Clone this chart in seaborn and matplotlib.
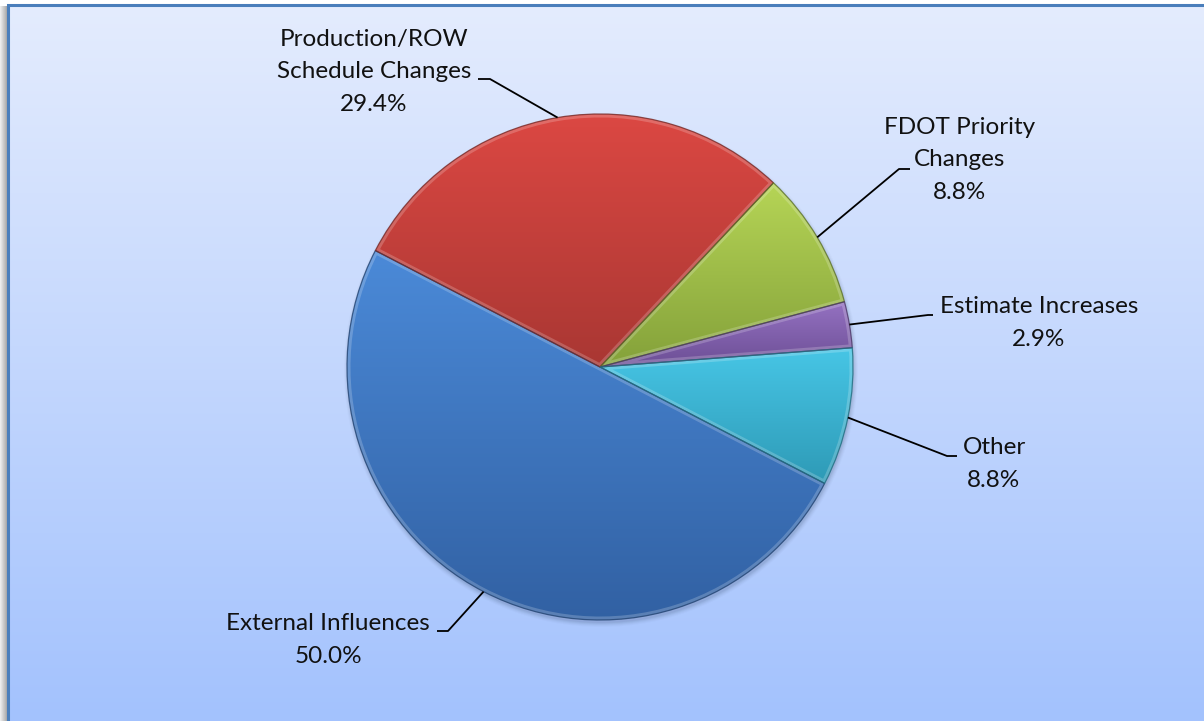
import numpy as np
import matplotlib
matplotlib.use("Agg")
import matplotlib.pyplot as plt
from matplotlib.colors import LinearSegmentedColormap, to_rgb
from matplotlib.patches import Circle, PathPatch
import seaborn as sns

# Reasons for schedule changes (project counts)
categories = ["External Influences", "Production/ROW\nSchedule Changes",
              "FDOT Priority\nChanges", "Estimate Increases", "Other"]
counts = [17, 10, 3, 1, 3]
pct_labels = ["50.0%", "29.4%", "8.8%", "2.9%", "8.8%"]

# light (top) / dark (bottom) shade of each slice
slice_top = ["#4b8ad8", "#dc4843", "#b6d556", "#9572c2", "#47c6e6"]
slice_bottom = ["#3160a2", "#a93733", "#84a13a", "#6c4e95", "#2e9ab6"]

sns.set_theme(style="white")
plt.rcParams["font.family"] = ["Lato", "DejaVu Sans"]

W, H = 1204, 721
fig = plt.figure(figsize=(W / 100, H / 100), dpi=100)
ax = fig.add_axes([0, 0, 1, 1])


def py(y):
    return H - y


cx, cy, r = 600, py(367), 253

wedges, _ = ax.pie(counts, startangle=-27.4, counterclock=False,
                   center=(cx, cy), radius=r, frame=True,
                   wedgeprops=dict(lw=0))
ax.set_xlim(0, W)
ax.set_ylim(0, H)
ax.set_aspect("equal")
ax.axis("off")

# chart area: soft shadow on the left, vertical blue gradient, blue frame
shade = np.linspace(0, 1, 64)[None, :]
ax.imshow(shade, extent=(0, 7, 0, py(6)), aspect="auto", zorder=0,
          cmap=LinearSegmentedColormap.from_list("sh", ["#f2f2f2", "#a8a8a8"]))
bg = np.linspace(0, 1, 256)[:, None]
ax.imshow(bg, extent=(8, W, 0, py(5)), aspect="auto", zorder=0.5,
          cmap=LinearSegmentedColormap.from_list("bg", ["#e4ecfd", "#a3c2fe"]))
ax.plot([7.5, 7.5, W], [0, py(4.5), py(4.5)], color="#4a7ebb", lw=2.2,
        solid_joinstyle="miter", zorder=1)
ax.set_xlim(0, W)
ax.set_ylim(0, H)

# soft drop shadow under the pie
for k, a in zip(range(5), [0.06, 0.05, 0.04, 0.03, 0.02]):
    ax.add_patch(Circle((cx + 1, cy - 3), r + k, color="#1b2a45",
                        alpha=a, lw=0, zorder=1.5))

for w, top, bot in zip(wedges, slice_top, slice_bottom):
    w.set_facecolor("none")
    w.set_zorder(2)
    path = w.get_path()
    verts = path.vertices
    y0, y1 = verts[:, 1].min(), verts[:, 1].max()
    x0, x1 = verts[:, 0].min(), verts[:, 0].max()
    cmap = LinearSegmentedColormap.from_list("s", [bot, top])
    im = ax.imshow(np.linspace(0, 1, 256)[:, None], origin="lower",
                   extent=(x0, x1, y0, y1), aspect="auto", cmap=cmap, zorder=2)
    im.set_clip_path(w)
    # bevel: bright rim inside the slice, darker outline
    rim = PathPatch(path, fill=False, ec="white", lw=5, alpha=0.2, zorder=2.1)
    ax.add_patch(rim)
    rim.set_clip_path(w)
    dark = tuple(c * 0.7 for c in to_rgb(bot))
    ax.add_patch(PathPatch(path, fill=False, ec=dark, lw=0.9, alpha=0.8,
                           zorder=2.2))

# labels with elbow leader lines
label_pos = [(328, 640), (374, 72), (960, 160), (1039, 323), (994, 464)]
elbows = [((448, 631), (437, 631)), ((490, 79), (478, 79)),
          ((899, 169), (910, 169)), ((928, 315), (933, 315)),
          ((947, 456), (957, 456))]

for w, cat, pct, (lx, ly), (corner, end) in zip(wedges, categories, pct_labels,
                                                label_pos, elbows):
    mid = np.deg2rad((w.theta1 + w.theta2) / 2)
    sx, sy = cx + r * np.cos(mid), cy + r * np.sin(mid)
    ax.plot([sx, corner[0], end[0]], [sy, py(corner[1]), py(end[1])],
            color="black", lw=1.3, zorder=3, solid_capstyle="butt")
    ax.text(lx, py(ly), f"{cat}\n{pct}", ha="center", va="center",
            multialignment="center", fontsize=17.5, linespacing=1.68,
            color="#111111", zorder=4)

fig.savefig("out.png", dpi=100, facecolor="white")
